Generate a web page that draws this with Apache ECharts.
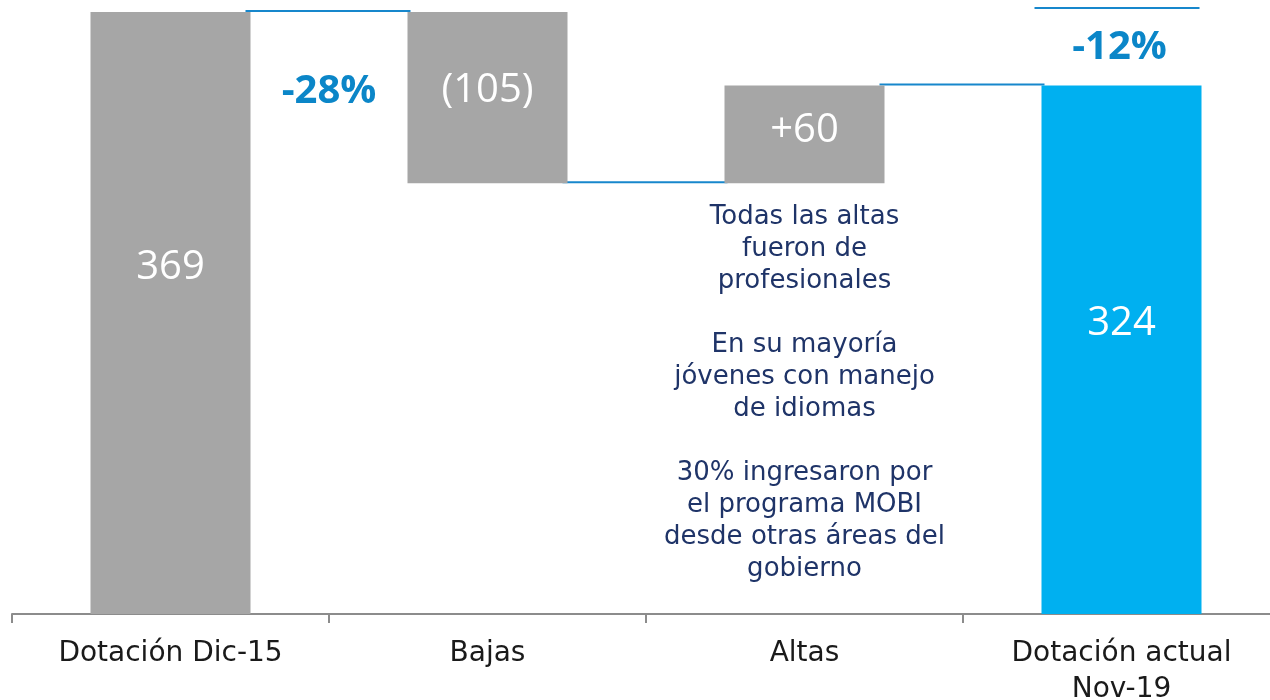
<!DOCTYPE html>
<html>
<head>
<meta charset="utf-8">
<script src="https://cdn.jsdelivr.net/npm/echarts@6/dist/echarts.min.js"></script>
<style>
  html, body { margin: 0; padding: 0; background: #fff; }
  #chart { width: 1270px; height: 700px; }
</style>
</head>
<body>
<div id="chart"></div>
<script>
  // datos del waterfall
  const categories = ['Dotación Dic-15', 'Bajas', 'Altas', 'Dotación actual\nNov-19'];
  const baseValues = [0, 264, 264, 0];
  const barValues = [369, 105, 60, 324];
  const barLabels = ['369', '(105)', '+60', '324'];
  const connectorLevels = [369, 264, 324];
  const pctLabels = ['-28%', '-12%'];
  const noteText = [
    'Todas las altas', 'fueron de', 'profesionales', '',
    'En su mayoría', 'jóvenes con manejo', 'de idiomas', '',
    '30% ingresaron por', 'el programa MOBI', 'desde otras áreas del', 'gobierno'
  ];

  const GRAY = '#a6a6a6';
  const BLUE = '#00b0f0';
  const LINE = '#1787cc';
  const fontAxis = '"DejaVu Sans", sans-serif';
  const labelY = ['42.5%', '46%', '46%', '45%'];

  const chart = echarts.init(document.getElementById('chart'));

  chart.setOption({
    animation: false,
    grid: { left: 12, right: -10, top: 12, bottom: 86, outerBoundsMode: 'none', containLabel: false },
    xAxis: {
      type: 'category',
      data: categories,
      axisLine: { lineStyle: { color: '#8c8c8c', width: 2 } },
      axisTick: { show: true, length: 9, lineStyle: { color: '#8c8c8c', width: 2 } },
      axisLabel: {
        color: '#1a1a1a', fontSize: 28, fontFamily: fontAxis,
        margin: 22, lineHeight: 36, interval: 0
      }
    },
    yAxis: { type: 'value', min: 0, max: 369, show: false },
    series: [
      {
        type: 'bar', stack: 'w', barWidth: 160,
        itemStyle: { color: 'transparent' },
        data: baseValues.map((v, i) => i === 2 ? {
          value: v,
          label: {
            show: true, position: 'insideTop', distance: 18,
            formatter: noteText.join('\n'),
            color: '#1f3468', fontSize: 26, lineHeight: 32, fontFamily: fontAxis, align: 'center'
          }
        } : v)
      },
      {
        type: 'bar', stack: 'w', barWidth: 160,
        data: barValues.map((v, i) => ({
          value: v,
          itemStyle: { color: i === 3 ? BLUE : GRAY },
          label: { position: ['50%', labelY[i]] }
        })),
        label: {
          show: true, align: 'center', verticalAlign: 'middle',
          color: '#fff', fontSize: 40, fontFamily: '"Open Sans", sans-serif',
          formatter: p => barLabels[p.dataIndex]
        }
      },
      {
        // conectores entre barras
        type: 'custom', clip: false, silent: true,
        data: connectorLevels.map((v, i) => [i, v]),
        renderItem(params, api) {
          const p = api.coord([api.value(0), api.value(1)]);
          const q = api.coord([api.value(0) + 1, api.value(1)]);
          return {
            type: 'line',
            shape: { x1: p[0] + 75, y1: p[1] - 1, x2: q[0] - 77, y2: p[1] - 1 },
            style: { stroke: LINE, lineWidth: 2 }
          };
        }
      },
      {
        // variaciones porcentuales
        type: 'custom', clip: false, silent: true,
        data: [[0, 369], [3, 324]],
        renderItem(params, api) {
          const i = api.value(0);
          const p = api.coord([i, api.value(1)]);
          const txt = { fill: '#0b86c8', font: 'bold 40px "Open Sans", sans-serif', align: 'center', verticalAlign: 'middle' };
          if (params.dataIndex === 0) {
            const q = api.coord([i + 1, api.value(1)]);
            return { type: 'text', style: Object.assign({ text: pctLabels[0], x: (p[0] + q[0]) / 2, y: p[1] + 80 }, txt) };
          }
          const top = api.coord([i, 369]);
          return {
            type: 'group',
            children: [
              { type: 'line', shape: { x1: p[0] - 87, y1: top[1] - 4, x2: p[0] + 78, y2: top[1] - 4 }, style: { stroke: LINE, lineWidth: 2 } },
              { type: 'text', style: Object.assign({ text: pctLabels[1], x: p[0] - 2, y: p[1] - 38 }, txt) }
            ]
          };
        }
      }
    ]
  });
</script>
</body>
</html>
